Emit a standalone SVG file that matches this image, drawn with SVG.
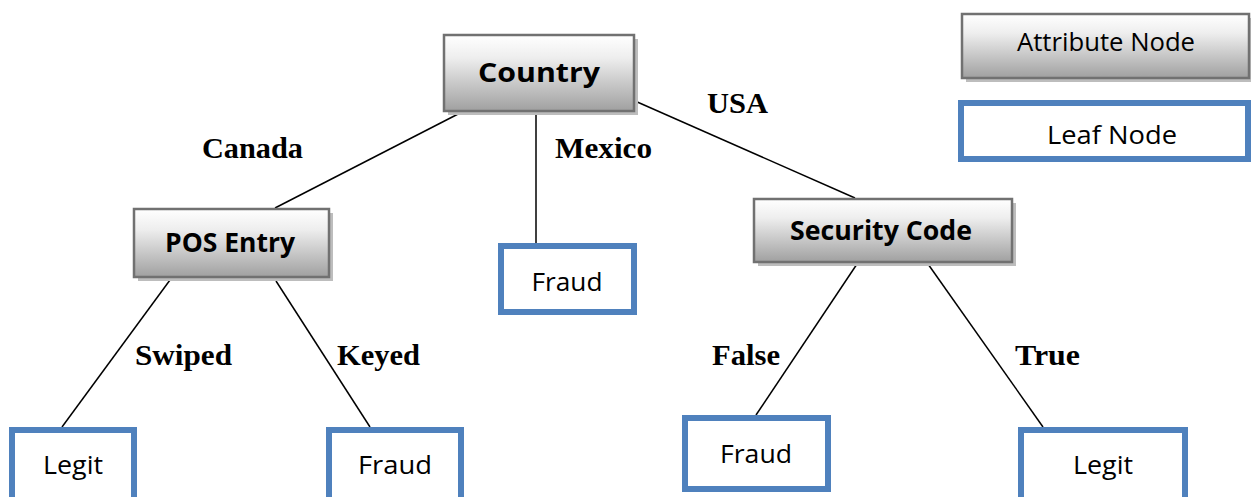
<svg xmlns="http://www.w3.org/2000/svg" width="1251" height="497" viewBox="0 0 1251 497">
<defs>
<linearGradient id="g" x1="0" y1="0" x2="0" y2="1">
<stop offset="0" stop-color="#ffffff"/>
<stop offset="0.3" stop-color="#eeeeee"/>
<stop offset="1" stop-color="#a0a0a0"/>
</linearGradient>
<style>
.attr{fill:url(#g);stroke:#717171;stroke-width:2.5}
.sh{fill:#bdbdbd}
.leaf{fill:#fff;stroke:#4f81bd;stroke-width:6}
.edge{stroke:#000;stroke-width:1.5;fill:none}
.lbl{font-family:"Liberation Serif","Times New Roman",serif;font-weight:bold;font-size:30px;fill:#000}
.t{font-family:"Open Sans","Noto Sans",sans-serif;font-size:26px;fill:#000;text-anchor:middle}
.tb{font-family:"Open Sans","Noto Sans",sans-serif;font-weight:bold;font-size:26px;fill:#000;text-anchor:middle}
</style>
</defs>
<rect width="1251" height="497" fill="#fff"/>
<g id="connectors">
<line class="edge" x1="462" y1="112" x2="275" y2="208"/>
<line class="edge" x1="536" y1="112" x2="536" y2="243"/>
<line class="edge" x1="635" y1="101" x2="855" y2="198"/>
<line class="edge" x1="170" y1="280" x2="62" y2="427"/>
<line class="edge" x1="276" y1="281" x2="370" y2="427"/>
<line class="edge" x1="857" y1="264" x2="756" y2="415"/>
<line class="edge" x1="928" y1="264" x2="1043" y2="427"/>
<text class="lbl" x="202" y="158" textLength="101" lengthAdjust="spacingAndGlyphs">Canada</text>
<text class="lbl" x="555" y="158" textLength="97" lengthAdjust="spacingAndGlyphs">Mexico</text>
<text class="lbl" x="707" y="113" textLength="61" lengthAdjust="spacingAndGlyphs">USA</text>
<text class="lbl" x="135" y="365" textLength="97" lengthAdjust="spacingAndGlyphs">Swiped</text>
<text class="lbl" x="337" y="365" textLength="83" lengthAdjust="spacingAndGlyphs">Keyed</text>
<text class="lbl" x="712" y="365" textLength="68" lengthAdjust="spacingAndGlyphs">False</text>
<text class="lbl" x="1015" y="365" textLength="65" lengthAdjust="spacingAndGlyphs">True</text>
</g>
<g id="legend-attribute">
<rect class="sh" x="966" y="18" width="288" height="64"/>
<rect class="attr" x="962" y="14" width="287" height="64"/>
<text class="t" x="1106" y="51" textLength="178" lengthAdjust="spacingAndGlyphs">Attribute Node</text>
</g>
<g id="legend-leaf">
<rect class="leaf" x="961" y="103" width="287" height="56"/>
<text class="t" x="1112" y="144" textLength="130" lengthAdjust="spacingAndGlyphs">Leaf Node</text>
</g>
<g id="country">
<rect class="sh" x="448" y="39" width="190" height="76"/>
<rect class="attr" x="444" y="35" width="190" height="76"/>
<text class="tb" x="539" y="82" font-size="34" textLength="122" lengthAdjust="spacingAndGlyphs">Country</text>
</g>
<g id="pos-entry">
<rect class="sh" x="138" y="213" width="195" height="68"/>
<rect class="attr" x="134" y="209" width="195" height="68"/>
<text class="tb" x="230" y="252" font-size="28" textLength="130" lengthAdjust="spacingAndGlyphs">POS Entry</text>
</g>
<g id="security-code">
<rect class="sh" x="758" y="203" width="258" height="63"/>
<rect class="attr" x="754" y="199" width="258" height="63"/>
<text class="tb" x="881" y="240" font-size="28" textLength="182" lengthAdjust="spacingAndGlyphs">Security Code</text>
</g>
<g id="fraud-mexico">
<rect class="leaf" x="501" y="246" width="133" height="66"/>
<text class="t" x="567" y="291" textLength="71" lengthAdjust="spacingAndGlyphs">Fraud</text>
</g>
<g id="legit-swiped">
<rect class="leaf" x="12" y="430" width="122" height="80"/>
<text class="t" x="73" y="474" textLength="60" lengthAdjust="spacingAndGlyphs">Legit</text>
</g>
<g id="fraud-keyed">
<rect class="leaf" x="329" y="430" width="132" height="80"/>
<text class="t" x="395" y="474" textLength="74" lengthAdjust="spacingAndGlyphs">Fraud</text>
</g>
<g id="fraud-false">
<rect class="leaf" x="685" y="418" width="143" height="71"/>
<text class="t" x="756" y="463" textLength="72" lengthAdjust="spacingAndGlyphs">Fraud</text>
</g>
<g id="legit-true">
<rect class="leaf" x="1021" y="430" width="164" height="80"/>
<text class="t" x="1103" y="474" textLength="60" lengthAdjust="spacingAndGlyphs">Legit</text>
</g>
</svg>
